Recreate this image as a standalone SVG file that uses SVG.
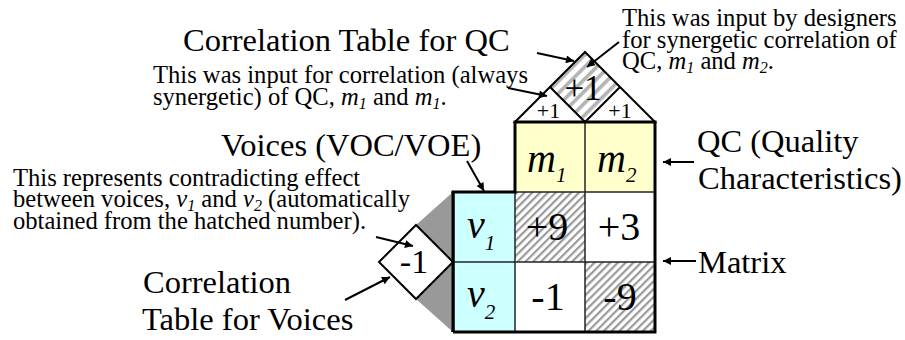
<svg xmlns="http://www.w3.org/2000/svg" width="905" height="340" viewBox="0 0 905 340">
<style>
text{font-family:"Liberation Serif","Times New Roman",serif;fill:#000}
.big{font-size:32.5px}
.note{font-size:24.6px}
.cell{font-size:40px}
.it{font-style:italic}
.thin{stroke:#222;stroke-width:1.5;fill:none}
.thick{stroke:#000;stroke-width:3;fill:none}
.conn{stroke:#000;stroke-width:2;fill:none;marker-end:url(#ah)}
</style>
<defs>
<pattern id="hatch" patternUnits="userSpaceOnUse" width="5.5" height="10" patternTransform="rotate(45)">
<rect width="5.5" height="10" fill="#fff"/>
<rect width="2.2" height="10" fill="#999"/>
</pattern>
<pattern id="hatch2" patternUnits="userSpaceOnUse" width="8.5" height="10" patternTransform="rotate(45)">
<rect width="8.5" height="10" fill="#fff"/>
<rect width="3.6" height="10" fill="#b4b4b4"/>
</pattern>
<marker id="ah" viewBox="0 0 10 10" refX="10" refY="5" markerUnits="userSpaceOnUse" markerWidth="11" markerHeight="8" orient="auto">
<path d="M0,0 L10,5 L0,10 z" fill="#000"/>
</marker>
</defs>

<g id="qc-correlation-roof">
<polygon points="585,52 550,87 585,122 620,87" fill="url(#hatch2)"/>
<polygon points="515,122 585,52 655,122" fill="none" stroke="#000" stroke-width="2"/>
<polyline points="550,87 585,122 620,87" fill="none" stroke="#000" stroke-width="2"/>
<text x="583" y="100" font-size="35" text-anchor="middle">+1</text>
<text x="548.5" y="118" font-size="22" text-anchor="middle">+1</text>
<text x="620" y="118" font-size="22" text-anchor="middle">+1</text>
</g>

<g id="qc-header">
<rect x="515" y="122" width="140" height="70" fill="#ffffcc"/>
<line class="thin" x1="585" y1="122" x2="585" y2="192"/>
<text class="cell it" x="527" y="172">m<tspan font-size="21" dy="10">1</tspan></text>
<text class="cell it" x="597" y="172">m<tspan font-size="21" dy="10">2</tspan></text>
</g>

<g id="voices">
<rect x="453" y="192" width="62" height="140" fill="#ccffff"/>
<text class="cell it" x="467" y="238">v<tspan font-size="21" dy="12">1</tspan></text>
<text class="cell it" x="467" y="307">v<tspan font-size="21" dy="12">2</tspan></text>
</g>

<g id="matrix">
<rect x="515" y="192" width="70" height="70" fill="url(#hatch)"/>
<rect x="585" y="192" width="70" height="70" fill="#fff"/>
<rect x="515" y="262" width="70" height="70" fill="#fff"/>
<rect x="585" y="262" width="70" height="70" fill="url(#hatch)"/>
<line class="thin" x1="515" y1="192" x2="655" y2="192"/>
<line class="thin" x1="453" y1="262" x2="655" y2="262"/>
<line class="thin" x1="515" y1="192" x2="515" y2="332"/>
<line class="thin" x1="585" y1="192" x2="585" y2="332"/>
<text class="cell" x="547" y="240" text-anchor="middle">+9</text>
<text class="cell" x="619" y="240" text-anchor="middle">+3</text>
<text class="cell" x="548" y="310" text-anchor="middle">-1</text>
<text class="cell" x="620" y="310" text-anchor="middle">-9</text>
<polyline class="thick" points="453,332 453,192 515,192 515,122 655,122 655,332 453,332"/>
</g>

<g id="voice-correlation">
<polygon points="453,192 416,225 453,262" fill="#999"/>
<polygon points="453,262 416,299 453,332" fill="#999"/>
<polygon points="379,262 416,225 453,262 416,299" fill="#fff" stroke="#000" stroke-width="2"/>
<line x1="453" y1="192" x2="453" y2="332" stroke="#000" stroke-width="3"/>
<text x="414" y="273" font-size="34" text-anchor="middle">-1</text>
</g>

<g id="connectors">
<line class="conn" x1="537" y1="53" x2="574" y2="61"/>
<line class="conn" x1="508" y1="88" x2="547" y2="96"/>
<line class="conn" x1="619" y1="42" x2="587" y2="67"/>
<line class="conn" x1="467" y1="161" x2="484" y2="191"/>
<line class="conn" x1="376" y1="237" x2="413" y2="246"/>
<line class="conn" x1="345" y1="300" x2="390" y2="277"/>
<line class="conn" x1="694" y1="162" x2="663" y2="162"/>
<line class="conn" x1="696" y1="261" x2="663" y2="261"/>
</g>

<g id="label-qc-table">
<text class="big" x="183" y="51">Correlation Table for QC</text>
</g>
<g id="note-always">
<text class="note" x="153" y="83">This was input for correlation (always</text>
<text class="note" x="153" y="104.5">synergetic) of QC, <tspan class="it">m</tspan><tspan class="it" font-size="16" dy="4">1</tspan><tspan dy="-4"> and </tspan><tspan class="it">m</tspan><tspan class="it" font-size="16" dy="4">1</tspan><tspan dy="-4">.</tspan></text>
</g>
<g id="note-designers">
<text class="note" x="622" y="26">This was input by designers</text>
<text class="note" x="622" y="47.5">for synergetic correlation of</text>
<text class="note" x="622" y="69">QC, <tspan class="it">m</tspan><tspan class="it" font-size="16" dy="4">1</tspan><tspan dy="-4"> and </tspan><tspan class="it">m</tspan><tspan class="it" font-size="16" dy="4">2</tspan><tspan dy="-4">.</tspan></text>
</g>
<g id="label-voices">
<text class="big" x="221" y="156">Voices (VOC/VOE)</text>
</g>
<g id="note-contradict">
<text class="note" x="13" y="185.5">This represents contradicting effect</text>
<text class="note" x="13" y="207">between voices, <tspan class="it">v</tspan><tspan class="it" font-size="16" dy="4">1</tspan><tspan dy="-4"> and </tspan><tspan class="it">v</tspan><tspan class="it" font-size="16" dy="4">2</tspan><tspan dy="-4"> (automatically</tspan></text>
<text class="note" x="13" y="228.5">obtained from the hatched number).</text>
</g>
<g id="label-qc">
<text class="big" x="697" y="152">QC (Quality</text>
<text class="big" x="698" y="189">Characteristics)</text>
</g>
<g id="label-matrix">
<text class="big" x="698" y="273">Matrix</text>
</g>
<g id="label-voice-table">
<text class="big" x="143" y="293">Correlation</text>
<text class="big" x="142" y="330">Table for Voices</text>
</g>
</svg>
